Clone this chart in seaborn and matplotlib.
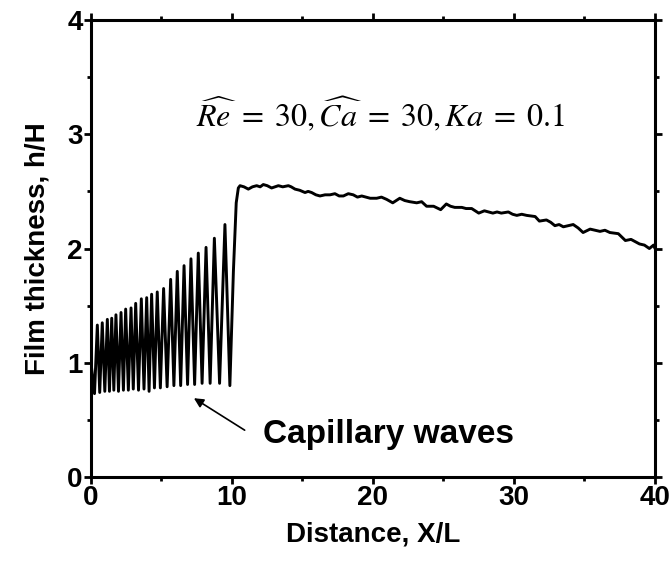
import numpy as np
import pandas as pd
import matplotlib
matplotlib.use("Agg")
import matplotlib.pyplot as plt
import seaborn as sns

# ---- data ----
# capillary-wave region: alternating troughs / peaks
wave_x = [0.00, 0.25, 0.45, 0.62, 0.80, 0.98, 1.16, 1.31, 1.47, 1.62, 1.77, 1.95, 2.13,
          2.30, 2.46, 2.65, 2.84, 3.00, 3.17, 3.37, 3.57, 3.76, 3.95, 4.12, 4.30, 4.50,
          4.70, 4.92, 5.15, 5.40, 5.65, 5.88, 6.12, 6.36, 6.60, 6.85, 7.09, 7.35, 7.61,
          7.88, 8.16, 8.45, 8.75, 9.12, 9.50, 9.85]
wave_h = [1.00, 0.73, 1.33, 0.74, 1.35, 0.75, 1.38, 0.75, 1.39, 0.76, 1.42, 0.75, 1.44,
          0.76, 1.47, 0.76, 1.48, 0.77, 1.52, 0.76, 1.56, 0.77, 1.57, 0.75, 1.60, 0.78,
          1.62, 0.78, 1.65, 0.79, 1.73, 0.80, 1.80, 0.80, 1.85, 0.81, 1.91, 0.81, 1.96,
          0.82, 2.01, 0.82, 2.09, 0.82, 2.21, 0.80]
# jump and slowly decaying plateau
plat_x = [10.10, 10.30, 10.45, 10.57, 10.85, 11.16, 11.45, 11.75, 12.00, 12.22, 12.50,
          12.81, 13.05, 13.29, 13.60, 14.00, 14.20, 14.47, 14.80, 15.18, 15.40, 15.65,
          15.95, 16.24, 16.60, 16.95, 17.30, 17.60, 17.90, 18.25, 18.60, 18.90, 19.20,
          19.50, 19.80, 20.26, 20.60, 20.97, 21.40, 21.90, 22.25, 22.60, 23.10, 23.45,
          23.80, 24.30, 24.80, 25.20, 25.50, 25.80, 26.30, 26.60, 27.00, 27.50, 27.90,
          28.20, 28.50, 28.80, 29.10, 29.60, 29.90, 30.20, 30.55, 30.90, 31.50, 31.80,
          32.30, 32.60, 32.90, 33.20, 33.50, 34.20, 34.55, 34.90, 35.40, 35.75, 36.10,
          36.45, 36.80, 37.40, 37.90, 38.30, 38.60, 38.90, 39.25, 39.60, 39.90, 40.00]
plat_h = [1.80, 2.40, 2.53, 2.55, 2.54, 2.52, 2.54, 2.55, 2.54, 2.56, 2.55,
          2.53, 2.54, 2.55, 2.54, 2.55, 2.54, 2.52, 2.51, 2.49, 2.50, 2.49,
          2.47, 2.46, 2.47, 2.47, 2.48, 2.46, 2.46, 2.48, 2.47, 2.45, 2.46,
          2.45, 2.44, 2.44, 2.45, 2.43, 2.40, 2.44, 2.42, 2.41, 2.40, 2.41,
          2.37, 2.37, 2.34, 2.39, 2.37, 2.36, 2.36, 2.35, 2.35, 2.31, 2.33,
          2.32, 2.31, 2.32, 2.31, 2.32, 2.30, 2.29, 2.30, 2.29, 2.28, 2.24,
          2.25, 2.23, 2.20, 2.21, 2.19, 2.21, 2.18, 2.14, 2.17, 2.16, 2.15,
          2.16, 2.14, 2.13, 2.07, 2.08, 2.06, 2.04, 2.03, 2.00, 2.03, 2.00]

x_ticks = [0, 10, 20, 30, 40]
y_ticks = [0, 1, 2, 3, 4]
x_label = "Distance, X/L"
y_label = "Film thickness, h/H"
param_text = r"$\widehat{Re}\;=\;30,\widehat{Ca}\;=\;30,Ka\;=\;0.1$"
annot_text = "Capillary waves"

df = pd.DataFrame({"x": wave_x + plat_x, "h": wave_h + plat_h})

sns.set_theme(style="ticks")
plt.rcParams["font.family"] = ["Liberation Sans", "DejaVu Sans"]
plt.rcParams["mathtext.fontset"] = "stix"
plt.rcParams["text.color"] = "black"
plt.rcParams["axes.labelcolor"] = "black"
plt.rcParams["xtick.color"] = "black"
plt.rcParams["ytick.color"] = "black"
plt.rcParams["xtick.labelcolor"] = "black"
plt.rcParams["ytick.labelcolor"] = "black"

fig = plt.figure(figsize=(6.7, 5.61), dpi=100)
ax = fig.add_axes([0.1358, 0.1497, 0.8418, 0.8146])

sns.lineplot(data=df, x="x", y="h", sort=False, estimator=None, color="black",
             linewidth=2.1, ax=ax)
for ln in ax.get_lines():
    ln.set_solid_joinstyle("round")

ax.set_xlim(0, 40)
ax.set_ylim(0, 4)
ax.set_xticks(x_ticks)
ax.set_yticks(y_ticks)
ax.set_xticks([5, 15, 25, 35], minor=True)
ax.set_yticks([0.5, 1.5, 2.5, 3.5], minor=True)
ax.set_xticklabels([str(t) for t in x_ticks], fontsize=20, fontweight="bold")
ax.set_yticklabels([str(t) for t in y_ticks], fontsize=20, fontweight="bold")
ax.tick_params(which="both", direction="out", top=True, right=True, width=2,
               color="black", labelcolor="black", labeltop=False, labelright=False)
ax.tick_params(which="major", length=5, pad=1)
ax.tick_params(which="minor", length=3)
for s in ax.spines.values():
    s.set_visible(True)
    s.set_linewidth(2.2)
    s.set_color("black")

ax.set_xlabel(x_label, fontsize=20, fontweight="bold", labelpad=7, color="black")
ax.set_ylabel(y_label, fontsize=20, fontweight="bold", labelpad=12, color="black")

ax.text(20.5, 3.07, param_text, fontsize=23, ha="center", va="baseline",
        color="black", fontweight="normal")
ax.text(12.2, 0.30, annot_text, fontsize=24, fontweight="bold", ha="left",
        va="baseline", color="black")
ax.annotate("", xy=(7.3, 0.69), xytext=(10.9, 0.41),
            arrowprops=dict(arrowstyle="-|>", color="black", lw=1.2,
                            mutation_scale=14, shrinkA=0, shrinkB=0))

fig.savefig("out.png", dpi=100)
